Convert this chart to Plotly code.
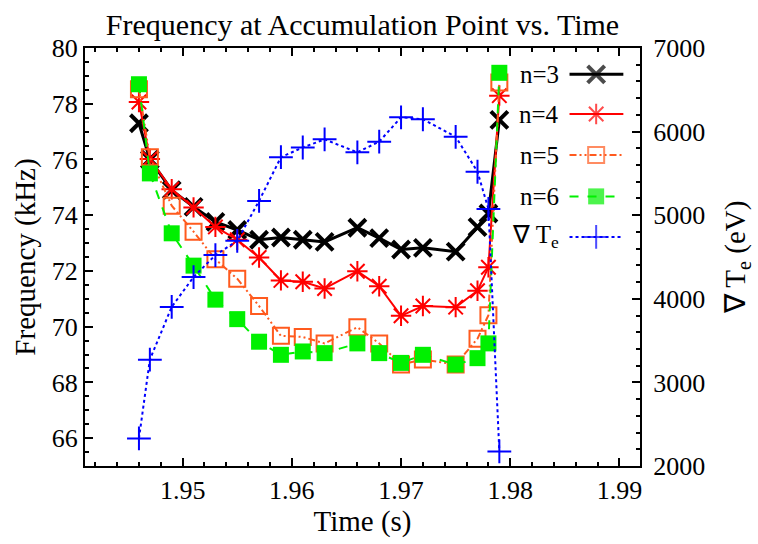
import plotly.graph_objects as go

# ---- data ----
time_s = [1.946, 1.947, 1.949, 1.951, 1.953, 1.955, 1.957, 1.959, 1.961, 1.963,
          1.966, 1.968, 1.970, 1.972, 1.975, 1.977, 1.978, 1.979]
n3 = [77.30, 76.00, 74.90, 74.30, 73.76, 73.47, 73.12, 73.20, 73.12, 73.04,
      73.55, 73.18, 72.77, 72.83, 72.69, 73.57, 74.06, 77.42]
n4 = [78.06, 76.02, 74.93, 74.28, 73.58, 73.12, 72.48, 71.66, 71.61, 71.37,
      71.99, 71.45, 70.39, 70.74, 70.70, 71.29, 72.13, 78.29]
n5 = [78.52, 76.08, 74.34, 73.41, 72.42, 71.72, 70.74, 69.67, 69.63, 69.40,
      69.98, 69.40, 68.64, 68.82, 68.64, 69.57, 70.41, 78.76]
n6 = [78.70, 75.50, 73.35, 72.19, 70.97, 70.27, 69.46, 68.99, 69.11, 69.05,
      69.40, 69.05, 68.70, 68.99, 68.64, 68.87, 69.40, 79.11]
grad_te = [2330, 3272, 3903, 4260, 4523, 4694, 5171, 5694, 5810, 5907,
           5752, 5880, 6171, 6148, 5938, 5520, 5074, 2174]

series_names = ["n=3", "n=4", "n=5", "n=6", "∇ T<sub>e</sub>"]

FONT = "Liberation Serif, Times New Roman, serif"
BLACK = "#000000"
RED = "#ff0000"
ORANGE = "#ff5a1e"
GREEN = "#00f000"
BLUE = "#0000ff"
DASHDOTDOT = "7px,3px,2px,3px,2px,3px"

styles = [
    dict(y=n3, color=BLACK, width=3, dash="solid", symbol="x-thin", size=17, mlw=4, yaxis="y"),
    dict(y=n4, color=RED, width=2, dash="solid", symbol="asterisk", size=17, mlw=2, yaxis="y"),
    dict(y=n5, color=ORANGE, width=2, dash=DASHDOTDOT, symbol="square-open", size=16, mlw=2, yaxis="y"),
    dict(y=n6, color=GREEN, width=2, dash="dash", symbol="square", size=16, mlw=0, yaxis="y"),
    dict(y=grad_te, color=BLUE, width=2, dash="dot", symbol="cross-thin", size=17, mlw=2, yaxis="y2"),
]

fig = go.Figure()
for name, s in zip(series_names, styles):
    fig.add_trace(go.Scatter(
        x=time_s, y=s["y"], name=name, mode="lines+markers", yaxis=s["yaxis"],
        line=dict(color=s["color"], width=s["width"], dash=s["dash"]),
        marker=dict(symbol=s["symbol"], size=s["size"], color=s["color"],
                    line=dict(color=s["color"], width=s["mlw"])),
        showlegend=False,
    ))

# ---- custom legend (text left of sample, as in the reference) ----
leg_rows = [0.937, 0.842, 0.744, 0.645, 0.548]
for name, s, ry in zip(series_names, styles, leg_rows):
    fig.add_trace(go.Scatter(
        x=[0.873, 0.921, 0.970], y=[ry, ry, ry], xaxis="x3", yaxis="y3",
        mode="lines+markers", showlegend=False, hoverinfo="skip",
        line=dict(color=s["color"], width=s["width"], dash=s["dash"]),
        marker=dict(symbol=s["symbol"], size=[0, s["size"], 0], color=s["color"],
                    line=dict(color=s["color"], width=s["mlw"])),
    ))
    fig.add_annotation(x=0.857, y=ry, xref="x3", yref="y3", text=name,
                       xanchor="right", yanchor="middle", showarrow=False,
                       font=dict(family=FONT, size=25, color="black"))

TICKFONT = dict(family=FONT, size=26, color="black")
axis_common = dict(showline=True, linecolor="black", linewidth=2, ticks="inside",
                   ticklen=8, tickwidth=1.5, tickcolor="black", showgrid=False,
                   zeroline=False)

fig.update_layout(
    width=758, height=544,
    margin=dict(l=85, r=114, t=48, b=66),
    paper_bgcolor="white", plot_bgcolor="white",
    font=dict(family=FONT, color="black"),
    title=dict(text="Frequency at Accumulation Point vs. Time", x=0.5, xref="paper",
               xanchor="center", y=1 - 24 / 544, yref="container", yanchor="middle",
               font=dict(family=FONT, size=30, color="black")),
    xaxis=dict(range=[1.94106, 1.99188], tick0=1.95, dtick=0.01, tickformat=".2f",
               mirror="ticks", tickfont=TICKFONT,
               minor=dict(dtick=0.002, ticks="inside", ticklen=4, tickcolor="black", tickwidth=1.5),
               title=dict(text="Time (s)", font=dict(family=FONT, size=29), standoff=6),
               **axis_common),
    yaxis=dict(range=[65, 80], tick0=66, dtick=2, ticklabelstandoff=0, tickfont=TICKFONT,
               minor=dict(dtick=0.5, ticks="inside", ticklen=4, tickcolor="black", tickwidth=1.5),
               title=dict(text="Frequency (kHz)", font=dict(family=FONT, size=29), standoff=8),
               **axis_common),
    yaxis2=dict(range=[2000, 7000], dtick=1000, overlaying="y", side="right",
                ticklabelstandoff=6, tickfont=TICKFONT,
                minor=dict(dtick=200, ticks="inside", ticklen=4, tickcolor="black", tickwidth=1.5),
                title=dict(text="∇ T<sub>e</sub> (eV)", font=dict(family=FONT, size=29), standoff=20),
                **axis_common),
    xaxis3=dict(overlaying="x", range=[0, 1], visible=False, fixedrange=True),
    yaxis3=dict(overlaying="y", range=[0, 1], visible=False, fixedrange=True, anchor="x3"),
)

fig.write_html("out.html")
